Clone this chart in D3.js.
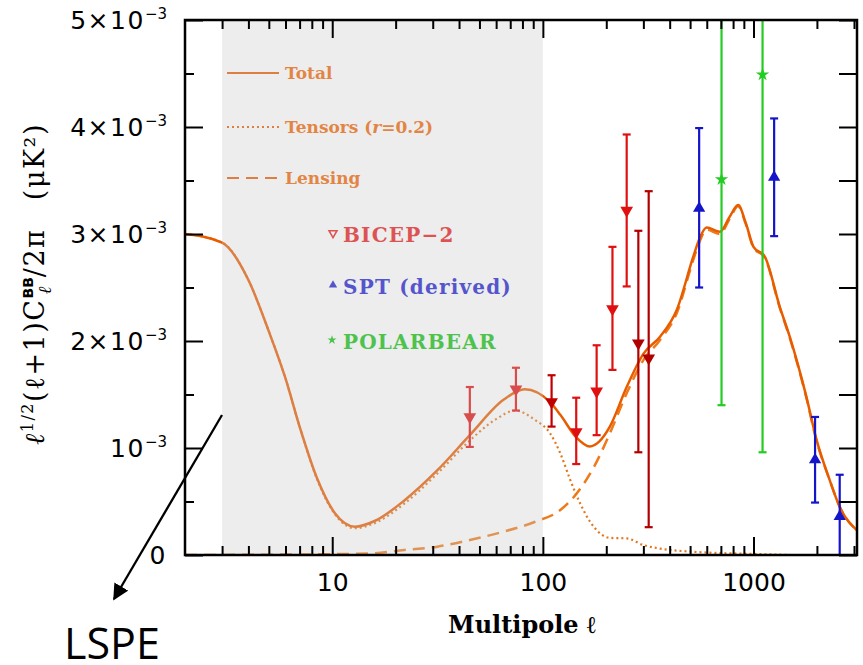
<!DOCTYPE html>
<meta charset="utf-8">
<script src="https://d3js.org/d3.v7.min.js"></script>
<body style="margin:0;background:#fff">
<svg id="svg" width="863" height="665"></svg>
<script>
// B-mode spectrum, values in units of 1e-3 uK^2, x = multipole l
var totalCurve = [[2,3.00],[3,2.92],[4,2.57],[5,2.09],[6,1.65],[7,1.20],[8.5,0.71],[10.3,0.39],[12.8,0.265],[16,0.32],[22,0.51],[31.5,0.79],[45,1.12],[65,1.45],[82,1.55],[108,1.43],[121,1.31],[144,1.10],[167,1.015],[185,1.06],[208,1.20],[250,1.57],[300,1.88],[360,2.04],[432,2.29],[518,2.79],[555,2.96],[599,3.06],[692,3.02],[770,3.16],[845,3.27],[920,3.10],[1000,2.88],[1130,2.79],[1333,2.32],[1486,2.04],[1782,1.48],[1990,1.08],[2300,0.70],[2566,0.45],[3100,0.23]];
var tensorCurve = [[2,3.00],[3,2.92],[4,2.57],[5,2.09],[6,1.65],[7,1.20],[8.5,0.70],[10.3,0.38],[12.8,0.25],[16,0.30],[22,0.48],[31.5,0.76],[45,1.07],[60,1.27],[74,1.35],[92,1.26],[108,1.14],[121,0.95],[135,0.70],[145,0.55],[175,0.26],[208,0.16],[250,0.155],[300,0.093],[360,0.06],[518,0.03],[1000,0.01],[1500,0.0]];
var lensingCurve = [[2,0.0],[5,0.003],[10,0.008],[15.5,0.016],[22,0.047],[31.5,0.078],[45,0.14],[65,0.218],[92,0.311],[121,0.42],[145,0.577],[175,0.825],[208,1.137],[250,1.511],[300,1.822],[360,2.01],[432,2.26],[518,2.76],[555,2.93],[599,3.04],[692,3.0],[770,3.14],[845,3.26],[920,3.09],[1000,2.87],[1130,2.78],[1333,2.31],[1486,2.03],[1782,1.47],[1990,1.07],[2300,0.70],[2566,0.45],[3100,0.23]];

// data points: multipole, value, lower, upper
var bicepEll = [45, 74.5, 110, 144, 180, 214, 250, 284, 318];
var bicepVal = [1.29, 1.55, 1.43, 1.15, 1.53, 2.30, 3.22, 1.98, 1.84];
var bicepLo  = [1.01, 1.35, 1.20, 0.85, 1.12, 1.73, 2.51, 0.96, 0.26];
var bicepHi  = [1.57, 1.75, 1.68, 1.47, 1.96, 2.88, 3.93, 3.03, 3.40];
var sptEll = [552, 1253, 1960, 2566];
var sptVal = [3.24, 3.53, 0.89, 0.36];
var sptLo  = [2.50, 2.98, 0.49, -0.3];
var sptHi  = [3.99, 4.08, 1.29, 0.75];
var pbEll = [705, 1104];
var pbVal = [3.51, 4.49];
var pbLo  = [1.40, 0.96];
var pbHi  = [6.0, 6.0];

var yTicks = [0, 1, 2, 3, 4, 5];
var xTickLabels = [10, 100, 1000];

var svg = d3.select("svg");
var pLeft = 185, pRight = 857, pTop = 20, pBottom = 555;

var x = d3.scaleLog().domain([2, 3100]).range([pLeft, pRight]);
var y = d3.scaleLinear().domain([0, 5]).range([pBottom, pTop]);

svg.append("clipPath").attr("id", "clip")
  .append("rect").attr("x", pLeft).attr("y", pTop).attr("width", pRight - pLeft).attr("height", pBottom - pTop);

var plot = svg.append("g").attr("clip-path", "url(#clip)");

var line = d3.line()
  .x(function(d) { return x(d[0]); })
  .y(function(d) { return y(d[1]); })
  .curve(d3.curveMonotoneX);

var orange = "#e85c00";
plot.append("path").datum(lensingCurve).attr("d", line)
  .attr("fill", "none").attr("stroke", "#ee7a1a").attr("stroke-width", 2.5).attr("stroke-dasharray", "12,7");
plot.append("path").datum(tensorCurve).attr("d", line)
  .attr("fill", "none").attr("stroke", "#e2781e").attr("stroke-width", 2.2).attr("stroke-dasharray", "2,3");
plot.append("path").datum(totalCurve).attr("d", line)
  .attr("fill", "none").attr("stroke", orange).attr("stroke-width", 2.5);

// error bars + markers
function points(ell, val, lo, hi, colors, symbol, rot, size) {
  var g = plot.append("g");
  ell.forEach(function(l, i) {
    var c = colors[i];
    var cx = x(l);
    g.append("line").attr("x1", cx).attr("x2", cx).attr("y1", y(lo[i])).attr("y2", y(hi[i]))
      .attr("stroke", c).attr("stroke-width", 2.2);
    [lo[i], hi[i]].forEach(function(v) {
      g.append("line").attr("x1", cx - 4).attr("x2", cx + 4).attr("y1", y(v)).attr("y2", y(v))
        .attr("stroke", c).attr("stroke-width", 2.2);
    });
    g.append("path").attr("d", d3.symbol().type(symbol).size(size)())
      .attr("transform", "translate(" + cx + "," + y(val[i]) + ") rotate(" + rot + ")")
      .attr("fill", c);
  });
}
var red = "#e01010", dred = "#b00000";
points(bicepEll, bicepVal, bicepLo, bicepHi, [red, red, "#c00000", red, red, red, red, dred, dred], d3.symbolTriangle, 180, 70);
points(sptEll, sptVal, sptLo, sptHi, sptEll.map(function() { return "#1414c8"; }), d3.symbolTriangle, 0, 65);
points(pbEll, pbVal, pbLo, pbHi, pbEll.map(function() { return "#22cc22"; }), d3.symbolStar, 0, 55);

// legend
var leg = svg.append("g");
var legLines = [["Total", null, 73], ["Tensors (", "2,3", 127], ["Lensing", "12,7", 178]];
legLines.forEach(function(d, i) {
  leg.append("line").attr("x1", 227).attr("x2", 279).attr("y1", d[2]).attr("y2", d[2])
    .attr("stroke", orange).attr("stroke-width", i == 1 ? 1.8 : 2.2)
    .attr("stroke-dasharray", d[1]);
  var t = leg.append("text").attr("x", 285).attr("y", d[2] + 6)
    .attr("font-family", "DejaVu Serif").attr("font-weight", "bold").attr("font-size", 17)
    .attr("fill", "#f06400").text(d[0]);
  if (i == 1) {
    t.append("tspan").attr("font-style", "italic").text("r");
    t.append("tspan").text("=0.2)");
  }
});
var legPts = [["BICEP\u22122", "#e81818", 235], ["SPT (derived)", "#1c1cd0", 287], ["POLARBEAR", "#10c010", 342]];
legPts.forEach(function(d) {
  leg.append("text").attr("x", 343).attr("y", d[2] + 7)
    .attr("font-family", "DejaVu Serif").attr("font-weight", "bold").attr("font-size", 20)
    .attr("letter-spacing", 1.2).attr("fill", d[1]).text(d[0]);
});
leg.append("path").attr("d", d3.symbol().type(d3.symbolTriangle).size(28)())
  .attr("transform", "translate(333,233) rotate(180)").attr("fill", "none").attr("stroke", "#e81818").attr("stroke-width", 1.5);
leg.append("path").attr("d", d3.symbol().type(d3.symbolTriangle).size(30)())
  .attr("transform", "translate(333,285)").attr("fill", "#1c1cd0");
leg.append("path").attr("d", d3.symbol().type(d3.symbolStar).size(26)())
  .attr("transform", "translate(332,340)").attr("fill", "#10c010");

// shaded LSPE range, laid over the marks
svg.append("rect").attr("x", x(3)).attr("y", pTop).attr("width", x(100) - x(3)).attr("height", pBottom - pTop)
  .attr("fill", "#c8c8c8").attr("opacity", 0.33);

// axes
var majors = xTickLabels;
var minors = x.ticks().filter(function(v) { return majors.indexOf(v) < 0 && v > 2 && v < 3100; });
function styleAxis(g) {
  g.select(".domain").remove();
  g.selectAll(".tick line").attr("stroke", "#000").attr("stroke-width", 2);
}
svg.append("g").attr("transform", "translate(0," + pBottom + ")")
  .call(d3.axisBottom(x).tickValues(minors).tickSize(-9).tickSizeOuter(0).tickFormat(""))
  .call(styleAxis);
svg.append("g").attr("transform", "translate(0," + pTop + ")")
  .call(d3.axisTop(x).tickValues(minors).tickSize(-9).tickSizeOuter(0).tickFormat(""))
  .call(styleAxis);
svg.append("g").attr("transform", "translate(0," + pBottom + ")")
  .call(d3.axisBottom(x).tickValues(majors).tickSize(-18).tickSizeOuter(0).tickPadding(18).tickFormat(d3.format("d")))
  .call(styleAxis)
  .call(function(g) {
    g.selectAll("text").attr("font-family", "DejaVu Sans").attr("font-size", 25).attr("fill", "#000");
  });
svg.append("g").attr("transform", "translate(0," + pTop + ")")
  .call(d3.axisTop(x).tickValues(majors).tickSize(-18).tickSizeOuter(0).tickFormat(""))
  .call(styleAxis);

var yMinor = d3.range(0.5, 5, 1);
svg.append("g").attr("transform", "translate(" + pLeft + ",0)")
  .call(d3.axisLeft(y).tickValues(yTicks).tickSize(-18).tickSizeOuter(0).tickFormat(""))
  .call(styleAxis);
svg.append("g").attr("transform", "translate(" + pLeft + ",0)")
  .call(d3.axisLeft(y).tickValues(yMinor).tickSize(-9).tickSizeOuter(0).tickFormat(""))
  .call(styleAxis);
svg.append("g").attr("transform", "translate(" + pRight + ",0)")
  .call(d3.axisRight(y).tickValues(yTicks.concat(yMinor)).tickSize(-18).tickSizeOuter(0).tickFormat(""))
  .call(styleAxis);

// y tick labels  n x 10^-3
yTicks.forEach(function(v) {
  var t = svg.append("text").attr("x", 167).attr("y", y(v) + 9)
    .attr("text-anchor", "end").attr("font-family", "DejaVu Sans").attr("font-size", 25)
    .attr("letter-spacing", 1.5);
  if (v == 0) { t.text("0"); return; }
  t.append("tspan").text(v == 1 ? "10" : v + "\u00d710");
  t.append("tspan").attr("dy", -10).attr("font-size", 15).attr("letter-spacing", 0).text("\u22123");
});

// frame
svg.append("rect").attr("x", pLeft).attr("y", pTop).attr("width", pRight - pLeft).attr("height", pBottom - pTop)
  .attr("fill", "none").attr("stroke", "#000").attr("stroke-width", 2.5);

// axis titles
svg.append("text").attr("x", 522).attr("y", 633).attr("text-anchor", "middle")
  .attr("font-family", "DejaVu Serif").attr("font-weight", "bold").attr("font-size", 24)
  .text("Multipole \u2113");

var yt = svg.append("text").attr("transform", "translate(44,284) rotate(-90)")
  .attr("text-anchor", "middle").attr("font-family", "DejaVu Serif").attr("font-size", 27)
  .attr("letter-spacing", 1.5);
yt.append("tspan").attr("font-style", "italic").text("\u2113");
yt.append("tspan").attr("dy", -11).attr("font-size", 16).text("1/2");
yt.append("tspan").attr("dy", 11).text("(\u2113+1)C");
yt.append("tspan").attr("dy", -11).attr("font-size", 14).attr("font-family", "DejaVu Sans").attr("font-weight", "bold").attr("letter-spacing", 0).text("BB");
yt.append("tspan").attr("dx", -17).attr("dy", 18).attr("font-size", 18).attr("font-style", "italic").text("\u2113");
yt.append("tspan").attr("dx", 8).attr("dy", -7).text("/2\u03c0\u2003(\u03bcK\u00b2)");

// LSPE annotation
svg.append("defs").append("marker").attr("id", "head")
  .attr("viewBox", "0 0 10 10").attr("refX", 9).attr("refY", 5)
  .attr("markerWidth", 7).attr("markerHeight", 7).attr("orient", "auto")
  .append("path").attr("d", "M0,0L10,5L0,10z").attr("fill", "#000");
svg.append("line").attr("x1", 222).attr("y1", 415).attr("x2", 114).attr("y2", 599)
  .attr("stroke", "#000").attr("stroke-width", 2.3).attr("marker-end", "url(#head)");
svg.append("text").attr("x", 64).attr("y", 659)
  .attr("font-family", "Open Sans").attr("font-size", 43).text("LSPE");
</script>
</body>
